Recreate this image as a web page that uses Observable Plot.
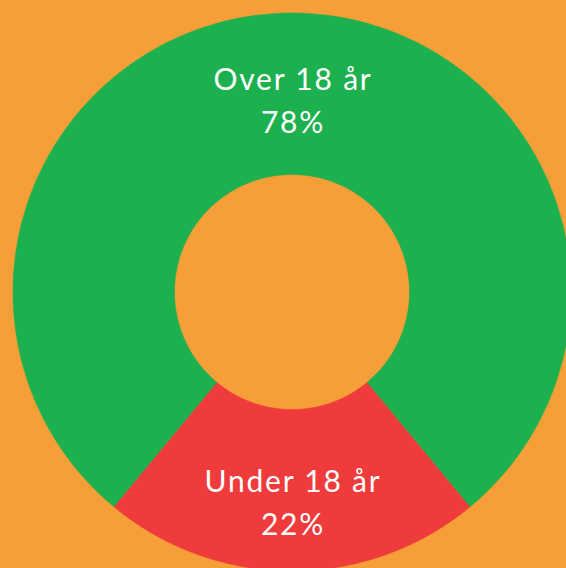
<!DOCTYPE html>
<html>
<head>
<meta charset="utf-8">
<script src="https://cdn.jsdelivr.net/npm/d3@7"></script>
<script src="https://cdn.jsdelivr.net/npm/@observablehq/plot@0.6"></script>
<style>
  html, body { margin: 0; padding: 0; background: #F69E38; }
  #chart svg { display: block; background: #F69E38; }
  #chart text { letter-spacing: 1.8px; }
</style>
</head>
<body>
<div id="chart"></div>
<script>
const categories = ["Over 18 år", "Under 18 år"];
const values = [78, 22];
const percentLabels = ["78%", "22%"];
const colors = ["#1DB04F", "#EF3B3C"];

const W = 566, H = 568;
const cx = 291.5, cy = 291.5;
const outerR = 279, innerR = 117.5, labelR = 201;

const total = d3.sum(values);
const start = -Math.PI * values[0] / total;
const arcs = d3.pie().sort(null).startAngle(start).endAngle(start + 2 * Math.PI)(values);

const pts = [];
const labels = [];
arcs.forEach((a, i) => {
  const n = 180;
  const ring = [];
  for (let k = 0; k <= n; k++) {
    const t = a.startAngle + (a.endAngle - a.startAngle) * k / n;
    ring.push({ x: outerR * Math.sin(t), y: outerR * Math.cos(t) });
  }
  for (let k = n; k >= 0; k--) {
    const t = a.startAngle + (a.endAngle - a.startAngle) * k / n;
    ring.push({ x: innerR * Math.sin(t), y: innerR * Math.cos(t) });
  }
  ring.push(ring[0]);
  ring.forEach(p => pts.push({ ...p, cat: categories[i] }));
  const mid = (a.startAngle + a.endAngle) / 2;
  labels.push({ x: labelR * Math.sin(mid), y: labelR * Math.cos(mid), text: categories[i] + "\n" + percentLabels[i] });
});

const chart = Plot.plot({
  width: W,
  height: H,
  margin: 0,
  style: { background: "#F69E38", overflow: "hidden" },
  x: { domain: [-cx, W - cx], range: [0, W], axis: null },
  y: { domain: [-(H - cy), cy], range: [H, 0], axis: null },
  color: { domain: categories, range: colors },
  marks: [
    Plot.line(pts, { x: "x", y: "y", z: "cat", fill: "cat", stroke: "cat", strokeWidth: 0.5, curve: "linear" }),
    Plot.text(labels, {
      x: "x", y: "y", text: "text", fill: "white",
      fontSize: 30, lineHeight: 1.46, dy: 6.5, dx: 1,
      fontFamily: "Lato, 'Open Sans', sans-serif",
      lineAnchor: "middle", textAnchor: "middle"
    })
  ]
});
document.getElementById("chart").appendChild(chart);
</script>
</body>
</html>
